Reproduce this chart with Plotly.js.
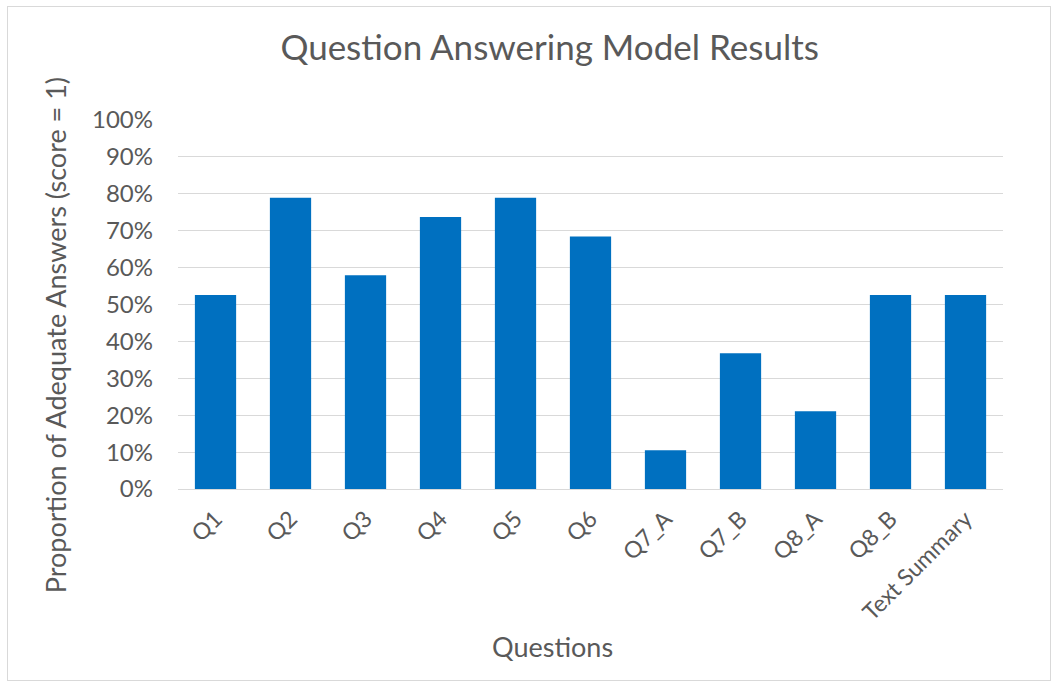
<!DOCTYPE html>
<html>
<head>
<meta charset="utf-8">
<script src="https://cdn.plot.ly/plotly-3.0.1.min.js"></script>
<style>
html,body{margin:0;padding:0;background:#fff;}
#frame{position:absolute;left:7px;top:6px;width:1042px;height:673px;border:1px solid #d9d9d9;pointer-events:none;z-index:10;}
#chart{position:absolute;left:0;top:0;width:1057px;height:685px;}
</style>
</head>
<body>
<div id="chart"></div>
<div id="frame"></div>
<script>
const categories = ["Q1","Q2","Q3","Q4","Q5","Q6","Q7_A","Q7_B","Q8_A","Q8_B","Text Summary"];
const proportions = [0.526, 0.789, 0.579, 0.737, 0.789, 0.684, 0.105, 0.368, 0.211, 0.526, 0.526];
const yTickValues = [0,0.1,0.2,0.3,0.4,0.5,0.6,0.7,0.8,0.9,1.0];
const yTickLabels = ["0%","10%","20%","30%","40%","50%","60%","70%","80%","90%","100%"];
const xAxisTitle = "Questions";
const yAxisTitle = "Proportion of Adequate Answers (score = 1)";

const textColor = "#595959";
const fontFam = "Lato, 'Open Sans', sans-serif";

Plotly.newPlot("chart", [{
  type: "bar",
  x: categories,
  y: proportions,
  marker: {color: "#0070C0"},
  hoverinfo: "x+y"
}], {
  width: 1057, height: 685,
  margin: {l: 178, r: 54, t: 120, b: 196},
  paper_bgcolor: "#fff", plot_bgcolor: "#fff",
  bargap: 0.45,
  font: {family: fontFam, color: textColor},
  title: {text: "Question Answering Model Results", font: {size: 35, color: textColor, family: fontFam}, x: 0.52, xanchor: "center", y: 0.931, yanchor: "middle"},
  xaxis: {
    tickangle: -45,
    tickfont: {size: 23, color: textColor},
    showgrid: false, showline: false, ticks: "",
    ticklabelstandoff: 11
  },
  yaxis: {
    range: [0, 1.0],
    tickvals: yTickValues, ticktext: yTickLabels,
    tickfont: {size: 24, color: textColor},
    gridcolor: "#d9d9d9", gridwidth: 1.3,
    zeroline: true, zerolinecolor: "#d9d9d9", zerolinewidth: 1.3,
    showline: false, ticks: "", ticklen: 0,
    ticklabelstandoff: 24
  },
  annotations: [
    {text: xAxisTitle, xref: "paper", yref: "paper", x: 0.4545, y: -0.4255, xanchor: "center", yanchor: "middle", showarrow: false, font: {size: 27, color: textColor}},
    {text: yAxisTitle, xref: "paper", yref: "paper", x: -0.149, y: 0.417, xanchor: "center", yanchor: "middle", textangle: -90, showarrow: false, font: {size: 27, color: textColor}}
  ],
  showlegend: false
}, {displayModeBar: false});
</script>
</body>
</html>
